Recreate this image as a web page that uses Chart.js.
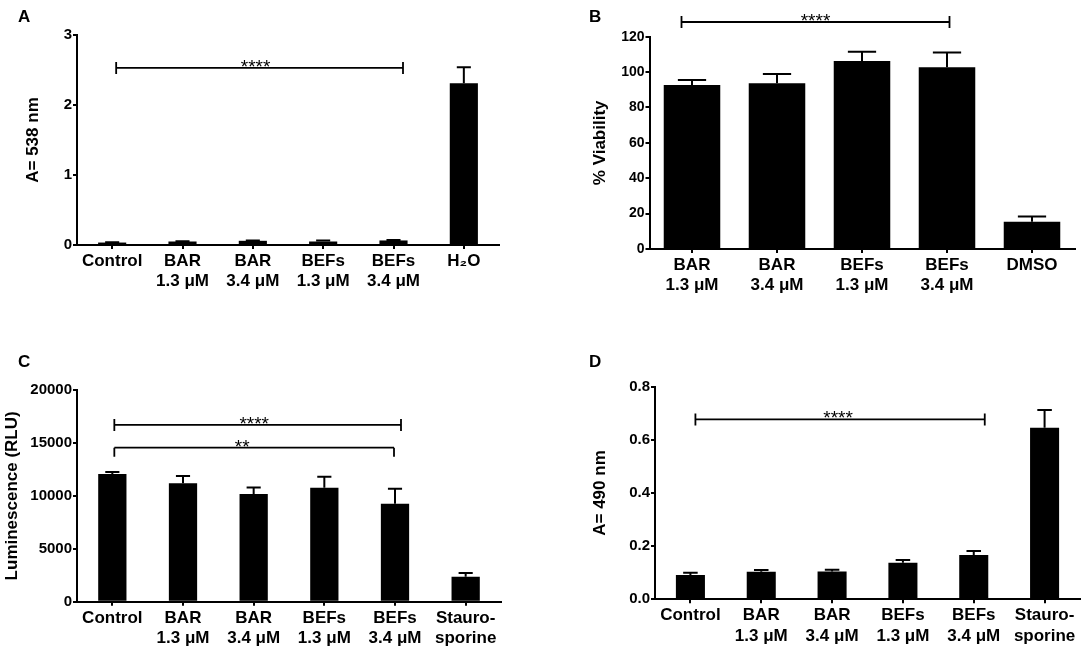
<!DOCTYPE html>
<html>
<head>
<meta charset="utf-8">
<script src="https://cdn.jsdelivr.net/npm/chart.js@4.4.1/dist/chart.umd.min.js"></script>
<style>
  html, body { margin: 0; padding: 0; background: #fff; }
  body { width: 1084px; height: 651px; position: relative; overflow: hidden; }
  canvas { position: absolute; }
</style>
</head>
<body>
<canvas id="panelA" width="542" height="325" style="left:0;top:0"></canvas>
<canvas id="panelB" width="542" height="325" style="left:542px;top:0"></canvas>
<canvas id="panelC" width="542" height="326" style="left:0;top:325px"></canvas>
<canvas id="panelD" width="542" height="326" style="left:542px;top:325px"></canvas>
<script>
const FONT = '"Liberation Sans", Arial, Helvetica, sans-serif';

// --- data ---
// A: haemolysis, A = 538 nm
const labelsA = ['Control', ['BAR', '1.3 μM'], ['BAR', '3.4 μM'], ['BEFs', '1.3 μM'], ['BEFs', '3.4 μM'], 'H₂O'];
const meanA = [0.035, 0.05, 0.06, 0.05, 0.065, 2.31];
const sdA = [0.005, 0.005, 0.005, 0.015, 0.005, 0.23];
const ticksA = [0, 1, 2, 3];
const sigA = [{ from: 0, to: 4, value: 2.53, text: '****', ends: 'both' }];

// B: % viability
const labelsB = [['BAR', '1.3 μM'], ['BAR', '3.4 μM'], ['BEFs', '1.3 μM'], ['BEFs', '3.4 μM'], 'DMSO'];
const meanB = [92.7, 93.7, 106.3, 102.7, 15.4];
const sdB = [2.8, 5.2, 5.2, 8.3, 2.9];
const ticksB = [0, 20, 40, 60, 80, 100, 120];
const sigB = [{ from: 0, to: 3, value: 128.3, text: '****', ends: 'both' }];

// C: luminescence (RLU)
const labelsC = ['Control', ['BAR', '1.3 μM'], ['BAR', '3.4 μM'], ['BEFs', '1.3 μM'], ['BEFs', '3.4 μM'], ['Stauro-', 'sporine']];
const meanC = [12060, 11190, 10170, 10770, 9260, 2360];
const sdC = [190, 690, 630, 1040, 1420, 350];
const ticksC = [0, 5000, 10000, 15000, 20000];
const sigC = [
  { from: 0, to: 4, value: 16700, text: '****', ends: 'both' },
  { from: 0, to: 4, value: 14550, text: '**', ends: 'down' }
];

// D: A = 490 nm
const labelsD = ['Control', ['BAR', '1.3 μM'], ['BAR', '3.4 μM'], ['BEFs', '1.3 μM'], ['BEFs', '3.4 μM'], ['Stauro-', 'sporine']];
const meanD = [0.091, 0.104, 0.105, 0.138, 0.167, 0.646];
const sdD = [0.009, 0.006, 0.006, 0.010, 0.015, 0.066];
const ticksD = [0, 0.2, 0.4, 0.6, 0.8];
const sigD = [{ from: 0, to: 4, value: 0.677, text: '****', ends: 'both' }];

// upper error whiskers, cap = half the bar width
const errorBars = {
  id: 'errorBars',
  afterDatasetsDraw(chart, args, opts) {
    const ctx = chart.ctx;
    const y = chart.scales.y;
    const meta = chart.getDatasetMeta(0);
    ctx.save();
    ctx.strokeStyle = '#000';
    ctx.lineWidth = 2;
    meta.data.forEach((bar, i) => {
      const top = y.getPixelForValue(opts.mean[i] + opts.sd[i]);
      const half = bar.width / 4;
      ctx.beginPath();
      ctx.moveTo(bar.x, bar.y);
      ctx.lineTo(bar.x, top);
      ctx.moveTo(bar.x - half, top);
      ctx.lineTo(bar.x + half, top);
      ctx.stroke();
    });
    ctx.restore();
  }
};

// significance brackets + panel letter
const annotations = {
  id: 'annotations',
  afterDraw(chart, args, opts) {
    const ctx = chart.ctx;
    const x = chart.scales.x, y = chart.scales.y;
    ctx.save();
    ctx.strokeStyle = '#000';
    ctx.fillStyle = '#000';
    ctx.lineWidth = 1.8;
    opts.sig.forEach((s, i) => {
      const n = opts.nudge[i];
      const x1 = x.getPixelForValue(s.from) + n[0];
      const x2 = x.getPixelForValue(s.to) + n[1];
      const yy = y.getPixelForValue(s.value);
      ctx.beginPath();
      ctx.moveTo(x1, yy); ctx.lineTo(x2, yy);
      if (s.ends === 'both') {
        ctx.moveTo(x1, yy - 6); ctx.lineTo(x1, yy + 6);
        ctx.moveTo(x2, yy - 6); ctx.lineTo(x2, yy + 6);
      } else {
        ctx.moveTo(x1, yy); ctx.lineTo(x1, yy + 9);
        ctx.moveTo(x2, yy); ctx.lineTo(x2, yy + 9);
      }
      ctx.stroke();
      ctx.font = '19px ' + FONT;
      ctx.textAlign = 'center';
      ctx.textBaseline = 'alphabetic';
      ctx.fillText(s.text, (x1 + x2) / 2 + n[2], yy + 5);
    });
    ctx.font = 'bold 17px ' + FONT;
    ctx.textAlign = 'left';
    ctx.fillText(opts.letter, opts.letterPos[0], opts.letterPos[1]);
    ctx.restore();
  }
};

function makePanel(id, p) {
  const canvas = document.getElementById(id);
  const W = canvas.width, H = canvas.height;
  const axisLine = { color: '#000', width: 2 };
  const tickGrid = { drawOnChartArea: false, color: '#000', lineWidth: 2, tickLength: 4 };
  return new Chart(canvas, {
    type: 'bar',
    data: {
      labels: p.labels,
      datasets: [{
        data: p.mean,
        backgroundColor: '#000',
        borderWidth: 0,
        barPercentage: p.barPct,
        categoryPercentage: 1
      }]
    },
    options: {
      responsive: false,
      animation: false,
      layout: { padding: { left: 0, top: p.area.top, right: W - p.area.right, bottom: 0 } },
      plugins: {
        legend: { display: false },
        tooltip: { enabled: false },
        errorBars: { mean: p.mean, sd: p.sd },
        annotations: { sig: p.sig, nudge: p.nudge, letter: p.letter, letterPos: p.letterPos }
      },
      scales: {
        x: {
          grid: Object.assign({ offset: false }, tickGrid),
          border: axisLine,
          ticks: {
            color: '#000', padding: 2, autoSkip: false, maxRotation: 0,
            font: { family: FONT, size: 17, weight: 'bold', lineHeight: 1.2 }
          },
          afterFit: s => { s.height = H - p.area.bottom; }
        },
        y: {
          min: 0, max: p.ticks[p.ticks.length - 1],
          grid: tickGrid,
          border: axisLine,
          ticks: {
            color: '#000', padding: 1,
            font: { family: FONT, size: p.tickSize, weight: 'bold' },
            callback: v => p.fmt(v)
          },
          afterBuildTicks: s => { s.ticks = p.ticks.map(v => ({ value: v })); },
          afterFit: s => { s.width = p.area.left; },
          title: {
            display: true, text: p.yTitle, color: '#000',
            font: { family: FONT, size: 17, weight: 'bold', lineHeight: 1.2 },
            padding: { top: p.titlePad, bottom: 0 }
          }
        }
      }
    },
    plugins: [errorBars, annotations]
  });
}

makePanel('panelA', {
  labels: labelsA, mean: meanA, sd: sdA, ticks: ticksA, sig: sigA,
  fmt: v => String(v), yTitle: 'A= 538 nm', letter: 'A',
  area: { left: 77, right: 499, top: 35, bottom: 245 },
  barPct: 0.40, tickSize: 15, titlePad: 22.8, letterPos: [18, 22],
  nudge: [[4, 9.5, -4]]
});
makePanel('panelB', {
  labels: labelsB, mean: meanB, sd: sdB, ticks: ticksB, sig: sigB,
  fmt: v => String(v), yTitle: '% Viability', letter: 'B',
  area: { left: 107.5, right: 532.5, top: 36.7, bottom: 249 },
  barPct: 0.665, tickSize: 14, titlePad: 47.8, letterPos: [47, 22],
  nudge: [[-10.5, 2.5, 0]]
});
makePanel('panelC', {
  labels: labelsC, mean: meanC, sd: sdC, ticks: ticksC, sig: sigC,
  fmt: v => String(v), yTitle: 'Luminescence (RLU)', letter: 'C',
  area: { left: 77, right: 501, top: 65, bottom: 276.7 },
  barPct: 0.40, tickSize: 15, titlePad: 1.8, letterPos: [18, 42],
  nudge: [[2, 6, -3.5], [2, -1, -12]]
});
makePanel('panelD', {
  labels: labelsD, mean: meanD, sd: sdD, ticks: ticksD, sig: sigD,
  fmt: v => v.toFixed(1), yTitle: 'A= 490 nm', letter: 'D',
  area: { left: 113, right: 538, top: 61.7, bottom: 274.3 },
  barPct: 0.41, tickSize: 15, titlePad: 48.5, letterPos: [47, 42],
  nudge: [[5, 11, -2]]
});
</script>
</body>
</html>
